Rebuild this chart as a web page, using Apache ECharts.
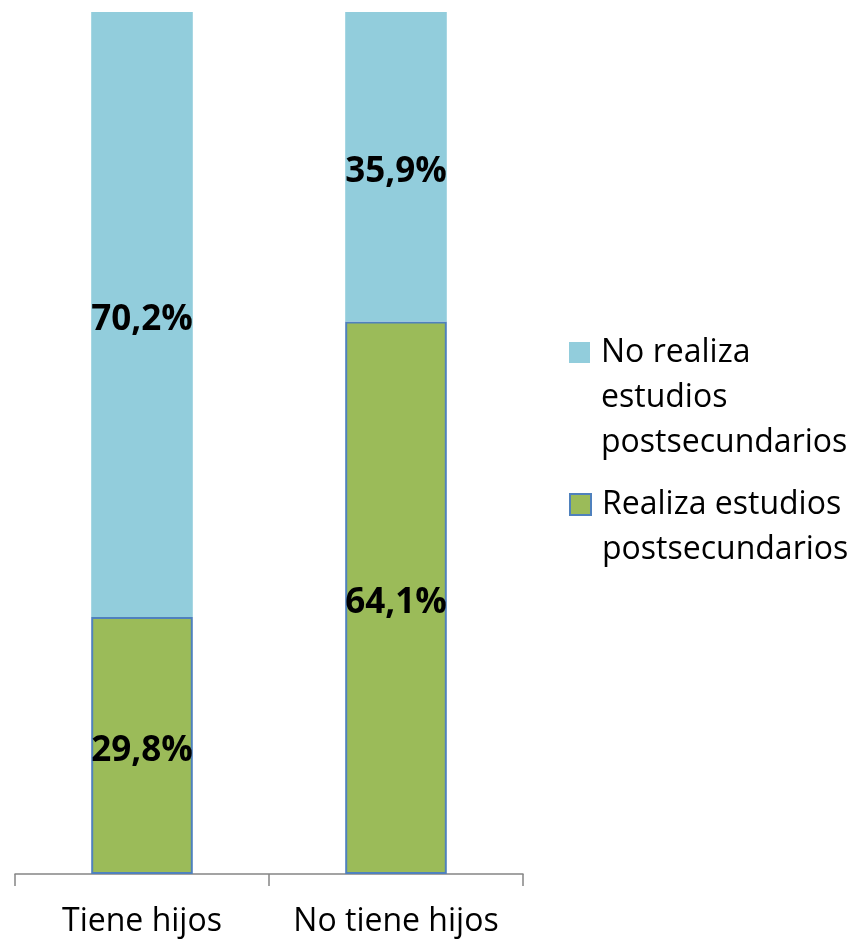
<!DOCTYPE html>
<html>
<head>
<meta charset="utf-8">
<script src="https://cdn.jsdelivr.net/npm/echarts@6/dist/echarts.min.js"></script>
<style>html,body{margin:0;padding:0;background:#fff}#c{width:852px;height:940px}</style>
</head>
<body>
<div id="c"></div>
<script>
const categories = ['Tiene hijos', 'No tiene hijos'];
const realiza = [29.8, 64.1];
const noRealiza = [70.2, 35.9];
const seriesNames = ['No realiza\nestudios\npostsecundarios', 'Realiza estudios\npostsecundarios'];

const FONT = '"Open Sans", "Liberation Sans", sans-serif';
const chart = echarts.init(document.getElementById('c'), null, {renderer: 'canvas'});
const labelCfg = {
  show: true,
  position: 'inside',
  offset: [0, 5],
  color: '#000',
  fontFamily: FONT,
  fontWeight: 'bold',
  fontSize: 35,
  formatter: p => p.value.toFixed(1).replace('.', ',') + '%'
};
const legendText = {color: '#000', fontFamily: FONT, fontSize: 32, lineHeight: 45, padding: [0, 0, 0, 6]};
chart.setOption({
  animation: false,
  backgroundColor: '#fff',
  grid: {left: 15, right: 329, top: 12, bottom: 66},
  xAxis: {
    type: 'category',
    data: categories,
    axisLine: {show: true, lineStyle: {color: '#858585', width: 1.5}},
    axisTick: {show: true, length: 12, lineStyle: {color: '#858585', width: 1.5}},
    axisLabel: {show: true, interval: 0, color: '#000', fontFamily: FONT, fontSize: 32, margin: 32}
  },
  yAxis: {type: 'value', min: 0, max: 100, show: false, splitLine: {show: false}},
  legend: [
    {
      data: [seriesNames[0]],
      orient: 'vertical', left: 569, top: 240, padding: 0,
      itemWidth: 21, itemHeight: 21, icon: 'rect',
      formatter: n => '\n\n' + n,
      textStyle: legendText
    },
    {
      data: [seriesNames[1]],
      orient: 'vertical', left: 569, top: 437, padding: 0,
      itemWidth: 21, itemHeight: 21, icon: 'rect',
      formatter: n => '\n' + n,
      textStyle: legendText
    }
  ],
  series: [
    {
      name: seriesNames[1], type: 'bar', stack: 'a', data: realiza, barWidth: '40%',
      itemStyle: {color: '#9BBB59', borderColor: '#4F81BD', borderWidth: 2},
      label: labelCfg
    },
    {
      name: seriesNames[0], type: 'bar', stack: 'a', data: noRealiza, barWidth: '40%',
      itemStyle: {color: '#92CDDC'},
      label: labelCfg
    }
  ]
});
</script>
</body>
</html>
